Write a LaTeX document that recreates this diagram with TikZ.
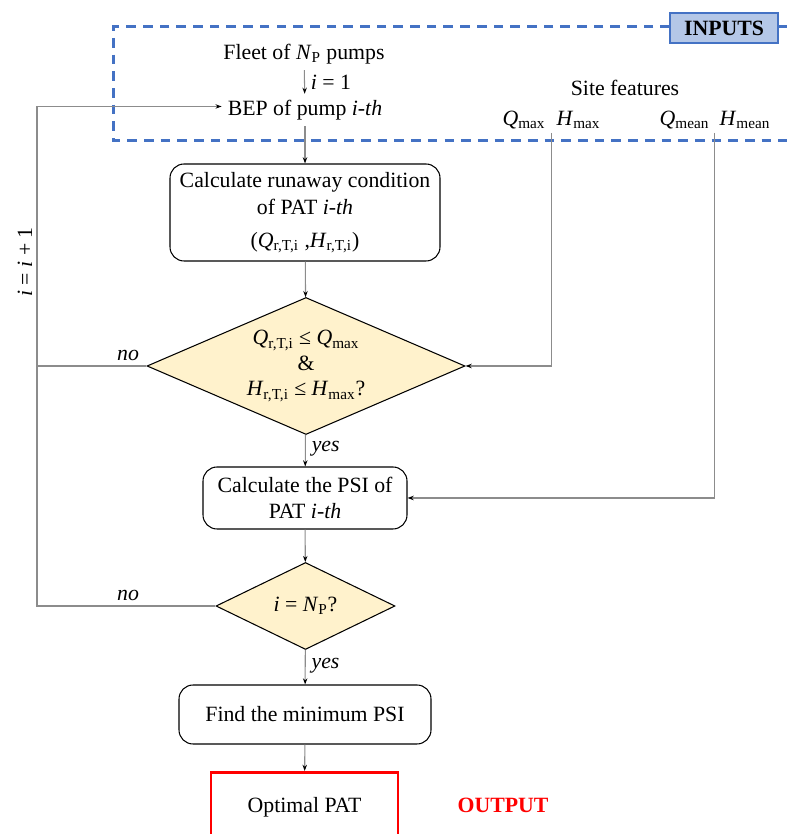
\documentclass[tikz,border=0pt]{standalone}
\usepackage{fontspec}
\setmainfont{Liberation Serif}
\usetikzlibrary{shapes.geometric,arrows.meta}
\definecolor{vblue}{HTML}{4472C4}
\definecolor{vlightblue}{HTML}{B4C7E7}
\definecolor{vgray}{HTML}{8C8C8C}
\definecolor{vyellow}{HTML}{FFF2CC}
\definecolor{vred}{HTML}{FF0000}
\newcommand{\pvar}[2]{\textit{#1}\textsubscript{#2}}
\tikzset{
	every node/.style={font=\fontsize{12.4}{14.5}\selectfont},
	procbox/.style={draw=black, line width=0.6pt, rounded corners=8pt, align=center, inner sep=0pt},
	decision/.style={diamond, draw=black, line width=0.6pt, fill=vyellow, align=center, inner sep=0pt},
	link/.style={color=vgray, line width=0.6pt},
	flow/.style={color=vgray, line width=0.6pt, -{Stealth[length=3.5pt,width=2.5pt,color=black]}},
	lbl/.style={text=black, font=\fontsize{12.4}{14.5}\selectfont\itshape},
}

\begin{document}
\begin{tikzpicture}
		\useasboundingbox (0,0) rectangle (15.74,16.68);
		\clip (0,0) rectangle (15.74,16.68);
		\draw[color=vblue, line width=1.7pt, dash pattern=on 5.5pt off 4pt] (15.74,16.14) -- (2.27,16.14) -- (2.27,13.86) -- (15.74,13.86);
		\node (inputs) [draw=vblue, line width=1pt, fill=vlightblue, minimum width=2.16cm, minimum height=0.6cm, font=\fontsize{12.4}{14.5}\selectfont\bfseries] at (14.48,16.12) {INPUTS};
		\node (fleet) at (6.08,15.6) {Fleet of \pvar{N}{P} pumps};
		\node (bep) at (6.1,14.48) {BEP of pump \textit{i-th}};
		\node (site) at (12.5,14.92) {Site features};
		\node (qmax) at (10.48,14.28) {\pvar{Q}{max}};
		\node (hmax) at (11.57,14.28) {\pvar{H}{max}};
		\node (qmean) at (13.69,14.28) {\pvar{Q}{mean}};
		\node (hmean) at (14.9,14.28) {\pvar{H}{mean}};
		\coordinate (qtop) at (11.03,14.02);
		\coordinate (htop) at (14.29,14.02);
		\coordinate (loop) at (0.74,4.56);
		\node (box1) [procbox, minimum width=5.4cm, minimum height=1.94cm] at (6.1,12.43) {Calculate runaway condition\\[1pt] of PAT \textit{i-th}\\[4pt] (\pvar{Q}{r,T,i} ,\pvar{H}{r,T,i})};
		\node (dia1) [decision, aspect=2.32, minimum width=6.36cm, minimum height=2.74cm] at (6.12,9.36) {\pvar{Q}{r,T,i} ≤ \pvar{Q}{max}\\ \&\\ \pvar{H}{r,T,i} ≤ \pvar{H}{max}?};
		\node (box2) [procbox, minimum width=4.08cm, minimum height=1.24cm] at (6.1,6.72) {Calculate the PSI of\\ PAT \textit{i-th}};
		\node (dia2) [decision, aspect=2.06, minimum width=3.58cm, minimum height=1.74cm] at (6.11,4.56) {\textit{i} = \pvar{N}{P}?};
		\node (box3) [procbox, minimum width=5.04cm, minimum height=1.18cm] at (6.1,2.39) {Find the minimum PSI};
		\node (output) [draw=vred, line width=1.7pt, minimum width=3.74cm, minimum height=1.4cm, anchor=north] at (6.09,1.26) {Optimal PAT};
		\node (outlbl) [text=vred, font=\fontsize{12.4}{14.5}\selectfont\bfseries] at (10.06,0.58) {OUTPUT};
		\draw[flow] (fleet) -- (bep) node[pos=0.5, right, text=black] {\textit{i} = 1};
		\draw[flow] (bep) -- (box1);
		\draw[flow] (box1) -- (dia1);
		\draw[flow] (dia1) -- (box2) node[pos=0.45, right, lbl] {yes};
		\draw[flow] (box2) -- (dia2);
		\draw[flow] (dia2) -- (box3) node[pos=0.45, right, lbl] {yes};
		\draw[flow] (box3) -- (output);
		\draw[flow] (qtop) |- (dia1.east);
		\draw[flow] (htop) |- (box2.east);
		\draw[flow] (dia2.west) -- (loop) |- ([yshift=2pt]bep.west);
		\draw[link] (dia1.west) -- (dia1.west -| loop);
		\node (no1) [lbl] at (2.56,9.58) {no};
		\node (no2) [lbl] at (2.56,4.78) {no};
		\node (incr) [rotate=90] at (0.5,11.44) {\textit{i} = \textit{i} + 1};
	\end{tikzpicture}
\end{document}
